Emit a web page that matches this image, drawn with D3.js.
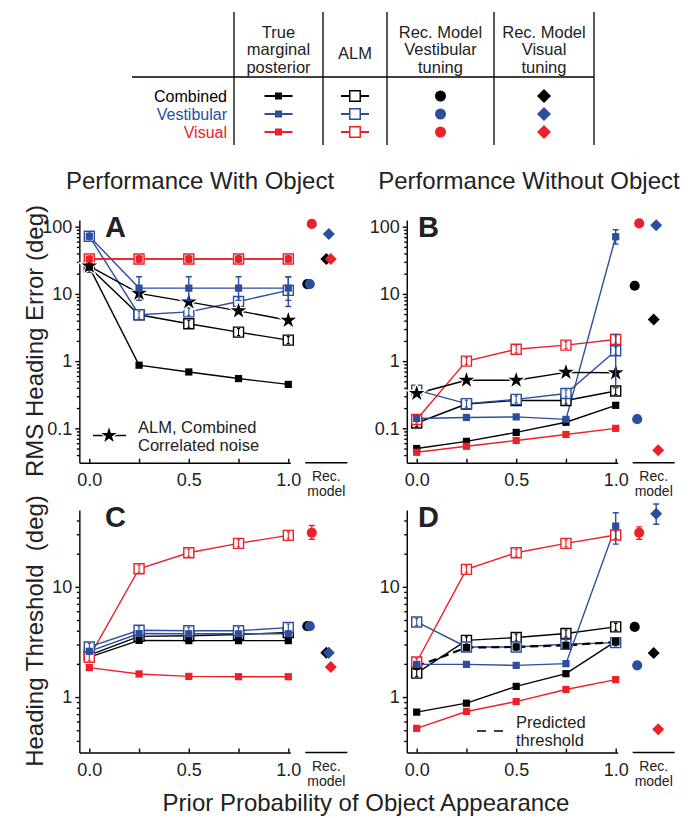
<!DOCTYPE html>
<html lang="en">
<head>
<meta charset="UTF-8">
<title>Prior probability of object appearance</title>
<style>
  body { margin: 0; background: #fff; }
  svg { display: block; font-family: "Liberation Sans", Arial, Helvetica, sans-serif; }
</style>
</head>
<body>
<svg id="chart"></svg>
<script src="https://cdn.jsdelivr.net/npm/d3@7"></script>
<script>
const width = 699;
const height = 818;

const black = '#000';
const blue = '#2c4e9e';
const red = '#ec2028';

// shared x values
const priorProb = [0, 0.25, 0.5, 0.75, 1.0];

// legend table
const rowNames = ['Combined', 'Vestibular', 'Visual'];
const colHeads = [['True', 'marginal', 'posterior'], ['ALM'], ['Rec. Model', 'Vestibular', 'tuning'], ['Rec. Model', 'Visual', 'tuning']];

// A: RMS heading error, with object
const aTrueComb = [25, 0.87, 0.69, 0.55, 0.45];
const aTrueVest = [72, 12.2, 12.2, 12.2, 12.2];
const aTrueVis = [33, 33, 33, 33, 33];
const aAlmComb = [25, 4.9, 3.6, 2.7, 2.05];
const aAlmVest = [72, 4.9, 5.4, 7.7, 11.3];
const aAlmVis = [33, 33, 33, 33, 33];
const aAlmCorr = [26, 10.2, 7.6, 5.6, 4.05];
const aTrueVestErr = [null, [8, 18], [8, 18], [8, 18], [8, 18]];
const aAlmVestErr = [null, null, null, null, [6.5, 18]];
const aRecCircle = [14, 14, 110];   // combined, vestibular, visual
const aRecDiamond = [33, 78, 33];

// B: RMS heading error, without object
const bTrueComb = [0.05, 0.064, 0.087, 0.123, 0.22];
const bTrueVest = [0.14, 0.145, 0.148, 0.136, 71];
const bTrueVis = [0.044, 0.054, 0.066, 0.081, 0.1];
const bAlmComb = [0.12, 0.23, 0.26, 0.26, 0.36];
const bAlmVest = [0.37, 0.233, 0.27, 0.33, 1.43];
const bAlmVis = [0.135, 1.0, 1.5, 1.73, 2.1];
const bAlmCorr = [0.33, 0.52, 0.52, 0.68, 0.67];
const bTrueVestErr = [null, null, null, null, [55, 90]];
const bAlmVestErr = [null, null, null, null, [0.4, 2.5]];
const bRecCircle = [13.2, 0.137, 112];
const bRecDiamond = [4.15, 105, 0.047];

// C: heading threshold, with object
const cTrueComb = [2.3, 3.27, 3.25, 3.25, 3.25];
const cTrueVest = [2.6, 3.77, 3.75, 3.75, 3.75];
const cTrueVis = [1.85, 1.62, 1.54, 1.53, 1.53];
const cAlmComb = [2.4, 3.55, 3.6, 3.7, 3.85];
const cAlmVest = [2.85, 4.04, 4.0, 4.0, 4.27];
const cAlmVis = [2.3, 14.6, 20.4, 24.8, 29.3];
const cRecCircle = [4.4, 4.4, 31];
const cRecDiamond = [2.53, 2.53, 1.87];
const cRecCircleErr = [null, null, [27, 36]];

// D: heading threshold, without object
const dTrueComb = [0.73, 0.88, 1.25, 1.63, 3.2];
const dTrueVest = [1.98, 1.98, 1.94, 2.01, 35.6];
const dTrueVis = [0.52, 0.74, 0.91, 1.17, 1.44];
const dAlmComb = [1.65, 3.27, 3.47, 3.77, 4.33];
const dAlmVest = [4.8, 2.85, 2.85, 3.01, 3.12];
const dAlmVis = [2.08, 14.4, 20.4, 24.8, 29.5];
const dPredicted = [1.9, 2.81, 2.85, 2.95, 3.16];
const dTrueVestErr = [null, null, null, null, [24.4, 47]];
const dRecCircle = [4.33, 1.94, 31];
const dRecDiamond = [2.51, 46, 0.51];
const dRecCircleErr = [null, null, [27, 35]];
const dRecDiamondErr = [null, [37, 56.5], null];

const seriesColors = [black, blue, red];

const svg = d3.select('#chart')
  .attr('width', width)
  .attr('height', height);

const sym = (type, size) => d3.symbol().type(type).size(size)();

// ---------- legend table ----------
const table = svg.append('g');
const colX = [234, 323, 387, 494, 594];
const rowY = d3.scalePoint().domain(rowNames).range([96, 132]);
const colMid = i => (colX[i] + colX[i + 1]) / 2;

colX.forEach(cx => {
  table.append('line')
    .attr('x1', cx).attr('x2', cx)
    .attr('y1', 12).attr('y2', 145)
    .attr('stroke', '#000').attr('stroke-width', 1.3);
});
table.append('line')
  .attr('x1', 132).attr('x2', colX[4])
  .attr('y1', 77).attr('y2', 77)
  .attr('stroke', '#000').attr('stroke-width', 1.3);

colHeads.forEach((lines, i) => {
  const y0 = lines.length === 3 ? 37.5 : 59;
  lines.forEach((s, j) => {
    table.append('text')
      .attr('x', colMid(i)).attr('y', y0 + j * 17.5)
      .attr('text-anchor', 'middle')
      .attr('font-size', 16.5)
      .attr('fill', '#222')
      .text(s);
  });
});

rowNames.forEach((name, i) => {
  const y = rowY(name);
  const c = seriesColors[i];
  table.append('text')
    .attr('x', 227).attr('y', y + 6)
    .attr('text-anchor', 'end')
    .attr('font-size', 16)
    .attr('fill', c)
    .text(name);
  // true marginal posterior
  table.append('line')
    .attr('x1', colMid(0) - 14).attr('x2', colMid(0) + 14)
    .attr('y1', y).attr('y2', y)
    .attr('stroke', c).attr('stroke-width', 2);
  table.append('path')
    .attr('d', sym(d3.symbolSquare, 49))
    .attr('transform', `translate(${colMid(0)},${y})`)
    .attr('fill', c);
  // ALM
  table.append('line')
    .attr('x1', colMid(1) - 14).attr('x2', colMid(1) + 14)
    .attr('y1', y).attr('y2', y)
    .attr('stroke', c).attr('stroke-width', 2);
  table.append('path')
    .attr('d', sym(d3.symbolSquare, 110))
    .attr('transform', `translate(${colMid(1)},${y})`)
    .attr('fill', '#fff').attr('stroke', c).attr('stroke-width', 1.5);
  // rec model
  table.append('path')
    .attr('d', sym(d3.symbolCircle, 95))
    .attr('transform', `translate(${colMid(2)},${y})`)
    .attr('fill', c);
  table.append('path')
    .attr('d', sym(d3.symbolSquare, 98))
    .attr('transform', `translate(${colMid(3)},${y}) rotate(45)`)
    .attr('fill', c);
});

// ---------- titles ----------
svg.append('text')
  .attr('x', 200).attr('y', 189)
  .attr('text-anchor', 'middle').attr('font-size', 24).attr('fill', '#222')
  .text('Performance With Object');
svg.append('text')
  .attr('x', 529).attr('y', 189)
  .attr('text-anchor', 'middle').attr('font-size', 24).attr('fill', '#222')
  .text('Performance Without Object');

svg.append('text')
  .attr('transform', 'translate(43,341) rotate(-90)')
  .attr('text-anchor', 'middle').attr('font-size', 24).attr('fill', '#222')
  .text('RMS Heading Error (deg)');
svg.append('text')
  .attr('transform', 'translate(43,631) rotate(-90)')
  .attr('text-anchor', 'middle').attr('font-size', 24).attr('fill', '#222')
  .style('white-space', 'pre')
  .text('Heading Threshold  (deg)');
svg.append('text')
  .attr('x', 366).attr('y', 811)
  .attr('text-anchor', 'middle').attr('font-size', 24).attr('fill', '#222')
  .text('Prior Probability of Object Appearance');

// ---------- panels ----------
function drawPanel(p) {
  const g = svg.append('g');
  const x = d3.scaleLinear().domain([0, 1]).range([p.left, p.left + 199]);
  const xa = d3.scaleLinear().domain([-0.05, 1.01]).range([x(-0.05), x(1.01)]);
  const y = d3.scaleLog().domain(p.yDomain).range([p.bottom, p.top]);

  // y axis
  const yAxis = g.append('g')
    .attr('transform', `translate(${xa(-0.05)},0)`)
    .call(d3.axisLeft(y).tickValues(p.yMajors).tickSize(4).tickSizeOuter(0)
      .tickPadding(3).tickFormat(d => String(d)));
  const minors = y.ticks().filter(d => !p.yMajors.includes(d));
  const yMinor = g.append('g')
    .attr('transform', `translate(${xa(-0.05)},0)`)
    .call(d3.axisLeft(y).tickValues(minors).tickSize(2.5).tickFormat(''));
  yMinor.select('.domain').remove();

  // x axis
  const xAxis = g.append('g')
    .attr('transform', `translate(0,${p.bottom})`)
    .call(d3.axisBottom(xa).tickValues(priorProb).tickSizeInner(-4).tickSizeOuter(0)
      .tickPadding(11).tickFormat(d => d * 2 % 1 === 0 ? d3.format('.1f')(d) : ''));

  [yAxis, yMinor, xAxis].forEach(a => {
    a.attr('font-family', null).attr('font-size', 18);
    a.selectAll('path, line').attr('stroke', '#000').attr('stroke-width', 1.4);
    a.selectAll('text').attr('fill', '#222');
  });

  // rec. model axis stub
  g.append('line')
    .attr('x1', x(1) + 17).attr('x2', x(1) + 59)
    .attr('y1', p.bottom).attr('y2', p.bottom)
    .attr('stroke', '#000').attr('stroke-width', 1.4);
  ['Rec.', 'model'].forEach((s, i) => {
    g.append('text')
      .attr('x', x(1) + 38)
      .attr('y', p.bottom + 18 + i * 15.5)
      .attr('text-anchor', 'middle').attr('font-size', 14).attr('fill', '#222')
      .text(s);
  });

  // panel letter
  g.append('text')
    .attr('x', p.letterX).attr('y', p.top + 17.3)
    .attr('font-size', 29).attr('font-weight', 'bold').attr('fill', '#222')
    .text(p.letter);

  // lines
  const line = d3.line().x((d, i) => x(priorProb[i])).y(d => y(d));
  p.series.forEach(s => {
    g.append('path')
      .attr('d', line(s.v))
      .attr('fill', 'none')
      .attr('stroke', s.c)
      .attr('stroke-width', s.kind === 'pred' ? 2.2 : 1.4)
      .attr('stroke-dasharray', s.kind === 'pred' ? '8,5' : null);
  });

  // markers
  p.series.forEach(s => {
    const m = g.append('g')
      .selectAll('g')
      .data(s.v)
      .enter()
      .append('g')
      .attr('transform', (d, i) => `translate(${x(priorProb[i])},${y(d)})`);
    if (s.kind === 'alm') {
      m.append('path')
        .attr('d', sym(d3.symbolSquare, 100))
        .attr('fill', '#fff').attr('stroke', s.c).attr('stroke-width', 1.4);
      m.append('path')
        .attr('d', 'M0,-3.5V3.5M-1.6,-3.5H1.6M-1.6,3.5H1.6')
        .attr('stroke', s.c).attr('stroke-width', 1.1).attr('fill', 'none');
    } else if (s.kind === 'star') {
      m.append('path')
        .attr('d', sym(d3.symbolStar, 75))
        .attr('fill', s.c).attr('stroke', '#fff').attr('stroke-width', 2.5)
        .style('paint-order', 'stroke');
    } else {
      m.append('path')
        .attr('d', sym(d3.symbolSquare, 52))
        .attr('fill', s.c);
    }
  });

  // error bars
  const errBar = (cx, lo, hi, c) => {
    g.append('path')
      .attr('d', `M${cx},${y(lo)}V${y(hi)}M${cx - 3},${y(lo)}H${cx + 3}M${cx - 3},${y(hi)}H${cx + 3}`)
      .attr('stroke', c).attr('stroke-width', 1.4).attr('fill', 'none');
  };
  p.series.forEach(s => {
    if (!s.err) return;
    s.err.forEach((e, i) => { if (e) errBar(x(priorProb[i]), e[0], e[1], s.c); });
  });

  // rec. model points
  const recX = d3.scalePoint().domain(['circle', 'diamond']).range([x(1) + 22, x(1) + 41]);
  const jitter = [-3, -0.5, 1.5];
  p.recCircle.forEach((v, i) => {
    const cx = recX('circle') + jitter[i];
    if (p.recCircleErr && p.recCircleErr[i]) errBar(cx, p.recCircleErr[i][0], p.recCircleErr[i][1], seriesColors[i]);
    g.append('path')
      .attr('d', sym(d3.symbolCircle, 80))
      .attr('transform', `translate(${cx},${y(v)})`)
      .attr('fill', seriesColors[i]);
  });
  p.recDiamond.forEach((v, i) => {
    const cx = recX('diamond') + jitter[i];
    if (p.recDiamondErr && p.recDiamondErr[i]) errBar(cx, p.recDiamondErr[i][0], p.recDiamondErr[i][1], seriesColors[i]);
    g.append('path')
      .attr('d', sym(d3.symbolSquare, 72))
      .attr('transform', `translate(${cx},${y(v)}) rotate(45)`)
      .attr('fill', seriesColors[i]);
  });

  return {g, x, y};
}

const rmsDomain = [0.0308, 125.8];
const thrDomain = [0.314, 49.8];

const panelA = drawPanel({
  letter: 'A', letterX: 105, left: 89.3, top: 220, bottom: 462.7,
  yDomain: rmsDomain, yMajors: [0.1, 1, 10, 100],
  series: [
    {v: aAlmComb, c: black, kind: 'alm'},
    {v: aAlmVest, c: blue, kind: 'alm', err: aAlmVestErr},
    {v: aAlmVis, c: red, kind: 'alm'},
    {v: aAlmCorr, c: black, kind: 'star'},
    {v: aTrueComb, c: black, kind: 'true'},
    {v: aTrueVest, c: blue, kind: 'true', err: aTrueVestErr},
    {v: aTrueVis, c: red, kind: 'true'}
  ],
  recCircle: aRecCircle, recDiamond: aRecDiamond
});

drawPanel({
  letter: 'B', letterX: 418, left: 416.7, top: 220, bottom: 462.7,
  yDomain: rmsDomain, yMajors: [0.1, 1, 10, 100],
  series: [
    {v: bAlmComb, c: black, kind: 'alm'},
    {v: bAlmVest, c: blue, kind: 'alm', err: bAlmVestErr},
    {v: bAlmVis, c: red, kind: 'alm'},
    {v: bTrueComb, c: black, kind: 'true'},
    {v: bTrueVest, c: blue, kind: 'true', err: bTrueVestErr},
    {v: bTrueVis, c: red, kind: 'true'},
    {v: bAlmCorr, c: black, kind: 'star'}
  ],
  recCircle: bRecCircle, recDiamond: bRecDiamond
});

drawPanel({
  letter: 'C', letterX: 105, left: 89.3, top: 510, bottom: 752.5,
  yDomain: thrDomain, yMajors: [1, 10],
  series: [
    {v: cAlmComb, c: black, kind: 'alm'},
    {v: cTrueComb, c: black, kind: 'true'},
    {v: cAlmVis, c: red, kind: 'alm'},
    {v: cTrueVis, c: red, kind: 'true'},
    {v: cAlmVest, c: blue, kind: 'alm'},
    {v: cTrueVest, c: blue, kind: 'true'}
  ],
  recCircle: cRecCircle, recDiamond: cRecDiamond, recCircleErr: cRecCircleErr
});

const panelD = drawPanel({
  letter: 'D', letterX: 418, left: 416.7, top: 510, bottom: 752.5,
  yDomain: thrDomain, yMajors: [1, 10],
  series: [
    {v: dAlmComb, c: black, kind: 'alm'},
    {v: dAlmVest, c: blue, kind: 'alm'},
    {v: dAlmVis, c: red, kind: 'alm'},
    {v: dPredicted, c: black, kind: 'pred'},
    {v: dTrueComb, c: black, kind: 'true'},
    {v: dTrueVest, c: blue, kind: 'true', err: dTrueVestErr},
    {v: dTrueVis, c: red, kind: 'true'}
  ],
  recCircle: dRecCircle, recDiamond: dRecDiamond,
  recCircleErr: dRecCircleErr, recDiamondErr: dRecDiamondErr
});

// in-panel legends
const legA = panelA.g.append('g');
legA.append('line')
  .attr('x1', 93).attr('x2', 126).attr('y1', 435.5).attr('y2', 435.5)
  .attr('stroke', '#000').attr('stroke-width', 1.4);
legA.append('path')
  .attr('d', sym(d3.symbolStar, 75))
  .attr('transform', 'translate(109,435.5)')
  .attr('fill', '#000').attr('stroke', '#fff').attr('stroke-width', 2.5)
  .style('paint-order', 'stroke');
['ALM, Combined', 'Correlated noise'].forEach((s, i) => {
  legA.append('text')
    .attr('x', 138).attr('y', 433 + i * 18)
    .attr('font-size', 16.5).attr('fill', '#222')
    .text(s);
});

const legD = panelD.g.append('g');
legD.append('line')
  .attr('x1', 477).attr('x2', 505).attr('y1', 731).attr('y2', 731)
  .attr('stroke', '#000').attr('stroke-width', 1.6).attr('stroke-dasharray', '9,8');
['Predicted', 'threshold'].forEach((s, i) => {
  legD.append('text')
    .attr('x', 516).attr('y', 728 + i * 18)
    .attr('font-size', 16.5).attr('fill', '#222')
    .text(s);
});
</script>
</body>
</html>
